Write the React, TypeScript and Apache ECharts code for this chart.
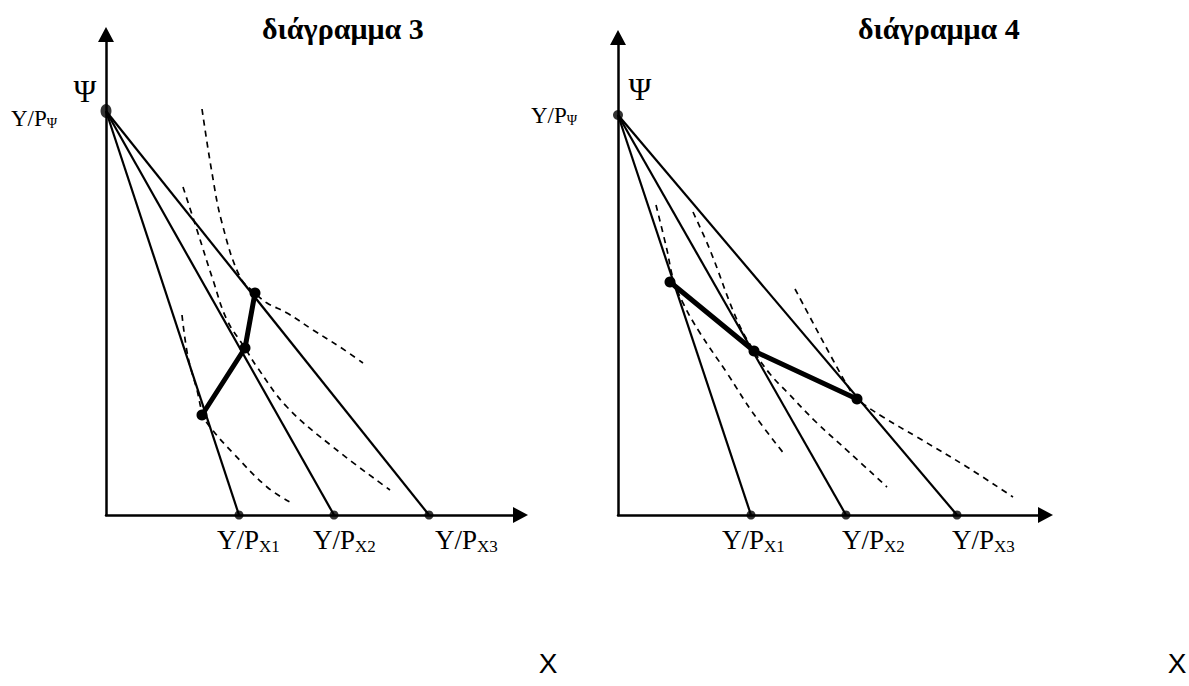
import React, { useEffect, useRef } from "react";
import * as echarts from "echarts";

// ---- Diagram 3 (left) ----
const yIntercept3 = 40.4;
const xIntercepts3 = [13.3, 22.8, 32.3];
const indiff3A = [[9.6, 40.6], [10.6, 34.2], [11.6, 29.2], [13.4, 23.8], [14.9, 22.2], [16.1, 21.2], [18.1, 20.2], [20.7, 18.5], [23.4, 16.8], [25.7, 15.2]];
const indiff3B = [[7.7, 32.8], [9.1, 28.5], [10.7, 23.5], [12.1, 19.5], [13.9, 16.7], [15.1, 14.8], [18.1, 10.8], [22.7, 6.8], [28.4, 2.5]];
const indiff3C = [[7.6, 20.0], [8.2, 15.8], [9.1, 12.5], [9.7, 10.0], [10.4, 8.8], [12.7, 6.2], [16.1, 2.8], [18.4, 1.3]];
const path3 = [[9.6, 10.0], [13.9, 16.7], [14.9, 22.2]];

// ---- Diagram 4 (right) ----
const yIntercept4 = 40.0;
const xIntercepts4 = [13.3, 22.8, 33.9];
const indiff4A = [[3.8, 31.0], [4.9, 26.5], [5.5, 23.7], [6.5, 21.2], [8.2, 18.2], [10.9, 14.2], [13.5, 10.2], [16.7, 6.0]];
const indiff4B = [[7.5, 30.3], [9.2, 26.5], [11.9, 19.5], [13.6, 16.4], [15.2, 14.1], [16.9, 12.3], [19.9, 9.2], [23.2, 6.2], [26.9, 2.8]];
const indiff4C = [[17.7, 22.6], [21.5, 15.5], [23.2, 12.5], [23.9, 11.6], [26.5, 9.8], [29.9, 7.8], [34.9, 4.8], [39.5, 1.8]];
const path4 = [[5.2, 23.3], [13.6, 16.4], [23.9, 11.6]];

// ---- Texts ----
const titles = ["διάγραμμα 3", "διάγραμμα 4"];
const yAxisName = "Ψ";
const xAxisName = "X";
const labelMain = "Y/P";
const yLabelSub = "Ψ";
const xLabelSubs = ["X1", "X2", "X3"];

const SERIF = '"Liberation Serif", "Times New Roman", serif';
const SANS = '"Liberation Sans", Arial, sans-serif';

function measure(text: string, size: number, family: string, weight = "normal") {
  const c = document.createElement("canvas").getContext("2d");
  if (!c) return text.length * size * 0.5;
  c.font = `${weight} ${size}px ${family}`;
  return c.measureText(text).width;
}

function subLabel(x: number, y: number, main: string, sub: string, size: number, subSize: number, dy: number) {
  const w = measure(main, size, SERIF);
  return [
    { type: "text", x, y, style: { text: main, fontSize: size, fontFamily: SERIF, fill: "#000", align: "left", verticalAlign: "middle" } },
    { type: "text", x: x + w, y: y + dy, style: { text: sub, fontSize: subSize, fontFamily: SERIF, fill: "#000", align: "left", verticalAlign: "middle" } },
  ];
}

const axisCommon = {
  type: "value",
  min: 0,
  axisLine: { show: true, symbol: ["none", "triangle"], symbolSize: [16, 15], lineStyle: { color: "#000", width: 2.5 } },
  axisTick: { show: false },
  axisLabel: { show: false },
  splitLine: { show: false },
};

function diagramSeries(idx: number, psi: number, xs: number[], curves: number[][][], path: number[][], topSize: any) {
  const s: any[] = [];
  curves.forEach((c) => {
    s.push({
      type: "line", xAxisIndex: idx, yAxisIndex: idx, data: c, smooth: 0.4, symbol: "none", z: 1,
      lineStyle: { color: "#000", width: 1.7, type: [6, 5] },
    });
  });
  xs.forEach((x) => {
    s.push({
      type: "line", xAxisIndex: idx, yAxisIndex: idx, data: [[0, psi], [x, 0]], symbol: "none", z: 2,
      lineStyle: { color: "#000", width: 2.2 },
    });
  });
  s.push({
    type: "line", xAxisIndex: idx, yAxisIndex: idx, data: path, symbol: "circle", symbolSize: 11, showSymbol: true, z: 3,
    lineStyle: { color: "#000", width: 5 }, itemStyle: { color: "#000" },
  });
  s.push({
    type: "scatter", xAxisIndex: idx, yAxisIndex: idx, data: xs.map((x) => [x, 0]), symbolSize: 9, z: 4,
    itemStyle: { color: "#000" },
  });
  s.push({
    type: "scatter", xAxisIndex: idx, yAxisIndex: idx, data: [[0, psi]], symbolSize: topSize, z: 4,
    itemStyle: { color: "#000" },
  });
  return s;
}

export default function App() {
  const ref = useRef<HTMLDivElement>(null);
  useEffect(() => {
    if (!ref.current) return;
    const chart = echarts.init(ref.current, null, { renderer: "svg" });
    const graphics: any[] = [];
    const titleStyle = { fontSize: 30, fontWeight: "bold", fontFamily: SERIF, fill: "#000", verticalAlign: "middle" };
    graphics.push({ type: "text", x: 262, y: 28, style: { ...titleStyle, text: titles[0] } });
    graphics.push({ type: "text", x: 858, y: 28, style: { ...titleStyle, text: titles[1] } });
    const psiStyle = { fontSize: 31, fontFamily: SERIF, fill: "#000", align: "center", verticalAlign: "middle" };
    graphics.push({ type: "text", x: 85, y: 91, style: { ...psiStyle, text: yAxisName } });
    graphics.push({ type: "text", x: 640, y: 89, style: { ...psiStyle, text: yAxisName } });
    graphics.push(...subLabel(11, 118, labelMain, yLabelSub, 23, 14, 5));
    graphics.push(...subLabel(531, 115, labelMain, yLabelSub, 23, 14, 5));
    const leftX = [217, 313, 435];
    const rightX = [722, 842, 952];
    xLabelSubs.forEach((sub, i) => {
      graphics.push(...subLabel(leftX[i], 540, labelMain, sub, 27, 17, 6.5));
      graphics.push(...subLabel(rightX[i], 540, labelMain, sub, 27, 17, 6.5));
    });
    const xStyle = { fontSize: 28, fontFamily: SANS, fill: "#000", align: "center", verticalAlign: "middle" };
    graphics.push({ type: "text", x: 548, y: 663, style: { ...xStyle, text: xAxisName } });
    graphics.push({ type: "text", x: 1177, y: 663, style: { ...xStyle, text: xAxisName } });

    chart.setOption({
      animation: false,
      backgroundColor: "#fff",
      grid: [
        { left: 106, top: 34.5, width: 414.5, height: 480.5 },
        { left: 618, top: 37.5, width: 427.5, height: 477.5 },
      ],
      xAxis: [
        { ...axisCommon, gridIndex: 0, max: 41.45 },
        { ...axisCommon, gridIndex: 1, max: 42.75 },
      ],
      yAxis: [
        { ...axisCommon, gridIndex: 0, max: 48.05 },
        { ...axisCommon, gridIndex: 1, max: 47.75 },
      ],
      series: [
        ...diagramSeries(0, yIntercept3, xIntercepts3, [indiff3A, indiff3B, indiff3C], path3, [11, 14]),
        ...diagramSeries(1, yIntercept4, xIntercepts4, [indiff4A, indiff4B, indiff4C], path4, 10),
      ],
      graphic: graphics,
    });
    return () => chart.dispose();
  }, []);
  return <div ref={ref} style={{ position: "absolute", left: 0, top: 0, width: 1189, height: 686 }} />;
}
